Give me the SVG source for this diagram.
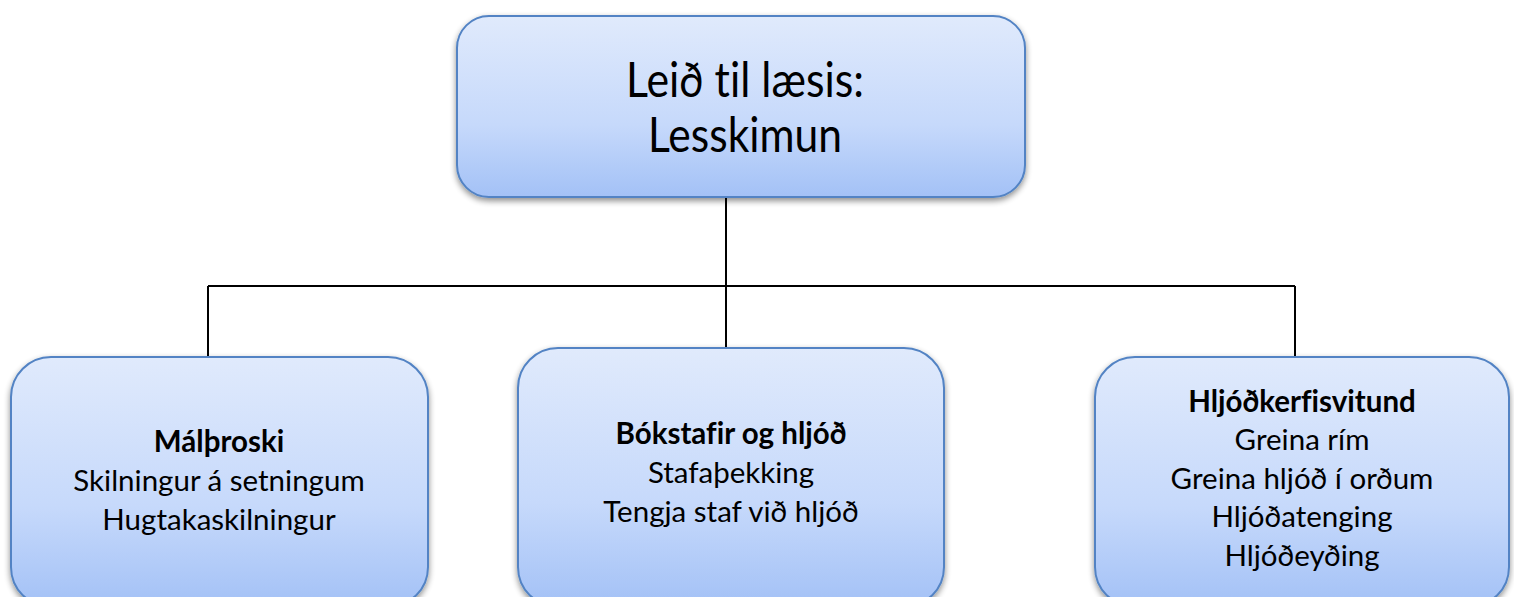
<svg xmlns="http://www.w3.org/2000/svg" width="1514" height="597" viewBox="0 0 1514 597">
  <defs>
    <linearGradient id="boxFill" x1="0" y1="0" x2="0" y2="1">
      <stop offset="0" stop-color="#e0eafc"/>
      <stop offset="0.6" stop-color="#c6d9fb"/>
      <stop offset="1" stop-color="#a3c1f6"/>
    </linearGradient>
    <filter id="shadow" x="-10%" y="-10%" width="120%" height="130%">
      <feGaussianBlur in="SourceAlpha" stdDeviation="3"/>
      <feOffset dx="0" dy="3" result="b"/>
      <feComponentTransfer><feFuncA type="linear" slope="0.45"/></feComponentTransfer>
      <feMerge><feMergeNode/><feMergeNode in="SourceGraphic"/></feMerge>
    </filter>
  </defs>
  <style>
    .box { fill: url(#boxFill); stroke: #5283c4; stroke-width: 2; filter: url(#shadow); }
    .link { fill: none; stroke: #000; stroke-width: 2; }
    text { font-family: Lato, "Open Sans", "Liberation Sans", sans-serif; fill: #000; text-anchor: middle; font-variant-ligatures: none; }
    .title { font-size: 48px; }
    .body { font-size: 29.5px; }
    .head { font-size: 29.5px; font-weight: bold; }
  </style>
  <rect width="1514" height="597" fill="#fff"/>

  <g id="connectors">
    <path class="link" d="M726 197 V286 M208 286 H1295 M208 286 V357 M726 286 V348 M1295 286 V357"/>
  </g>

  <g id="root">
    <rect class="box" x="457" y="16" width="568" height="181" rx="32"/>
    <text class="title" x="745" y="97" textLength="238" lengthAdjust="spacingAndGlyphs">Leið til læsis:</text>
    <text class="title" x="745" y="152" textLength="194" lengthAdjust="spacingAndGlyphs">Lesskimun</text>
  </g>

  <g id="malthroski">
    <rect class="box" x="11" y="357" width="417" height="250" rx="40"/>
    <text class="head" x="219" y="452">Málþroski</text>
    <text class="body" x="219" y="491">Skilningur á setningum</text>
    <text class="body" x="219" y="530">Hugtakaskilningur</text>
  </g>

  <g id="bokstafir">
    <rect class="box" x="518" y="348" width="426" height="259" rx="40"/>
    <text class="head" x="731" y="444">Bókstafir og hljóð</text>
    <text class="body" x="731" y="483">Stafaþekking</text>
    <text class="body" x="731" y="522">Tengja staf við hljóð</text>
  </g>

  <g id="hljodkerfisvitund">
    <rect class="box" x="1095" y="357" width="414" height="250" rx="40"/>
    <text class="head" x="1302" y="412">Hljóðkerfisvitund</text>
    <text class="body" x="1302" y="450">Greina rím</text>
    <text class="body" x="1302" y="489">Greina hljóð í orðum</text>
    <text class="body" x="1302" y="527">Hljóðatenging</text>
    <text class="body" x="1302" y="566">Hljóðeyðing</text>
  </g>
</svg>
